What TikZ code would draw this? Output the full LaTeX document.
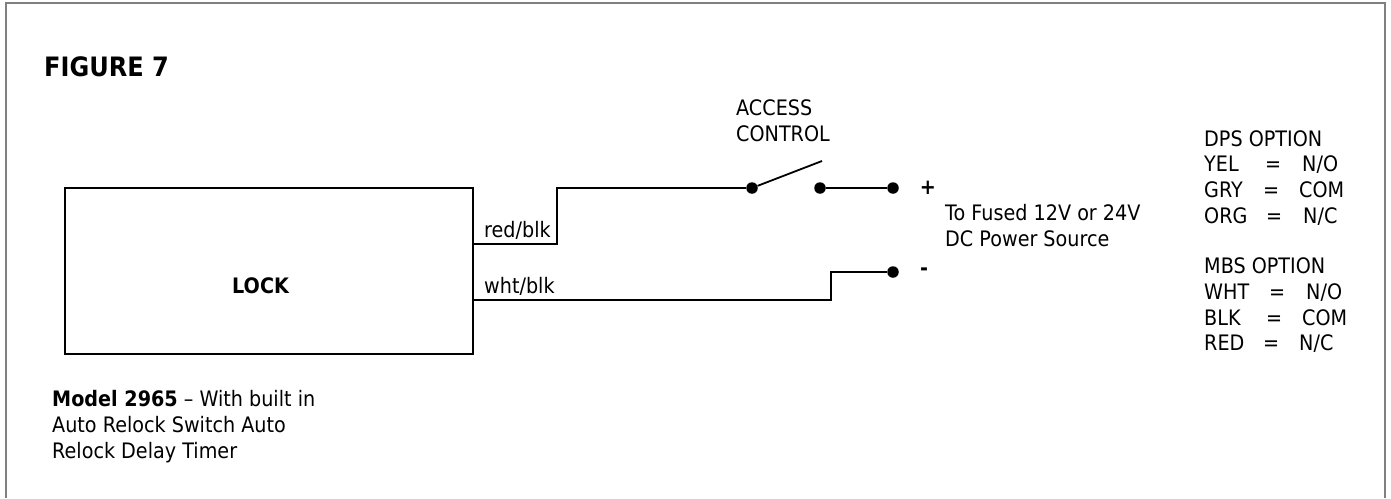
\documentclass[tikz,border=0pt]{standalone}
\usepackage{fontspec}
\setmainfont[FakeStretch=0.9]{DejaVu Sans}
\usetikzlibrary{positioning}
\tikzset{
    wire/.style={draw=black, line width=1.8pt},
    term/.style={circle, fill=black, inner sep=0pt, minimum size=11.5pt},
    txt/.style={inner sep=0pt, align=left, anchor=base west, font=\fontsize{21.3}{25.8}\selectfont},
    head/.style={txt, font=\fontsize{21.3}{26}\selectfont\bfseries}
}
\begin{document}
\begin{tikzpicture}[x=1pt, y=-1pt]
    \useasboundingbox (0,0) rectangle (1391,498);
    \draw [draw=black!50, line width=2pt] (5.5,498) -- (5.5,3) -- (1385,3) -- (1385,498);

    \node [draw=black, line width=1.8pt, minimum width=408pt, minimum height=166pt, inner sep=0pt] (lock) at (269,271) {};
    \node [head] (lock txt) at (232,293) {LOCK};

    \node [head, font=\fontsize{26.7}{30}\selectfont\bfseries] (fig) at (44,76) {FIGURE 7};
    \node [txt] (access) at (736,141) {ACCESS\\CONTROL};
    \node [txt] (model) at (52,458) {\textbf{Model 2965} -- With built in\\Auto Relock Switch Auto\\Relock Delay Timer};

    \node [term] (sw a) at (752,188) {};
    \node [term] (sw b) at (820,188) {};
    \node [term] (plus) at (893,188) {};
    \node [term] (minus) at (893,272) {};
    \coordinate (sw tip) at (822,161);
    \coordinate (red out) at (lock.east |- 0,244);
    \coordinate (wht out) at (lock.east |- 0,300);

    \draw [wire] (red out) -- (557,244) |- (sw a);
    \draw [wire] (sw a) -- (sw tip);
    \draw [wire] (sw b) -- (plus);
    \draw [wire] (wht out) -- (831,300) |- (minus);

    \node [txt] (red) at (484,237) {red/blk};
    \node [txt] (wht) at (484,293) {wht/blk};
    \node [head, anchor=center] (plus txt) at (928,188) {+};
    \node [head, anchor=center] (minus txt) at (924,272) {-};
    \node [txt] (source) at (945,246) {To Fused 12V or 24V\\DC Power Source};

    \node [txt] (dps) at (1204,146) {DPS OPTION};
    \node [txt] (yel) at (1204,171) {YEL};
    \node [txt] (yel e) at (1265,171) {=};
    \node [txt] (yel v) at (1302,171) {N/O};
    \node [txt] (gry) at (1204,197) {GRY};
    \node [txt] (gry e) at (1263,197) {=};
    \node [txt] (gry v) at (1299,197) {COM};
    \node [txt] (org) at (1204,223) {ORG};
    \node [txt] (org e) at (1266,223) {=};
    \node [txt] (org v) at (1303,223) {N/C};

    \node [txt] (mbs) at (1204,273) {MBS OPTION};
    \node [txt] (wh) at (1204,299) {WHT};
    \node [txt] (wh e) at (1269,299) {=};
    \node [txt] (wh v) at (1306,299) {N/O};
    \node [txt] (blk) at (1204,325) {BLK};
    \node [txt] (blk e) at (1266,325) {=};
    \node [txt] (blk v) at (1302,325) {COM};
    \node [txt] (rd) at (1204,350) {RED};
    \node [txt] (rd e) at (1263,350) {=};
    \node [txt] (rd v) at (1299,350) {N/C};
\end{tikzpicture}
\end{document}
